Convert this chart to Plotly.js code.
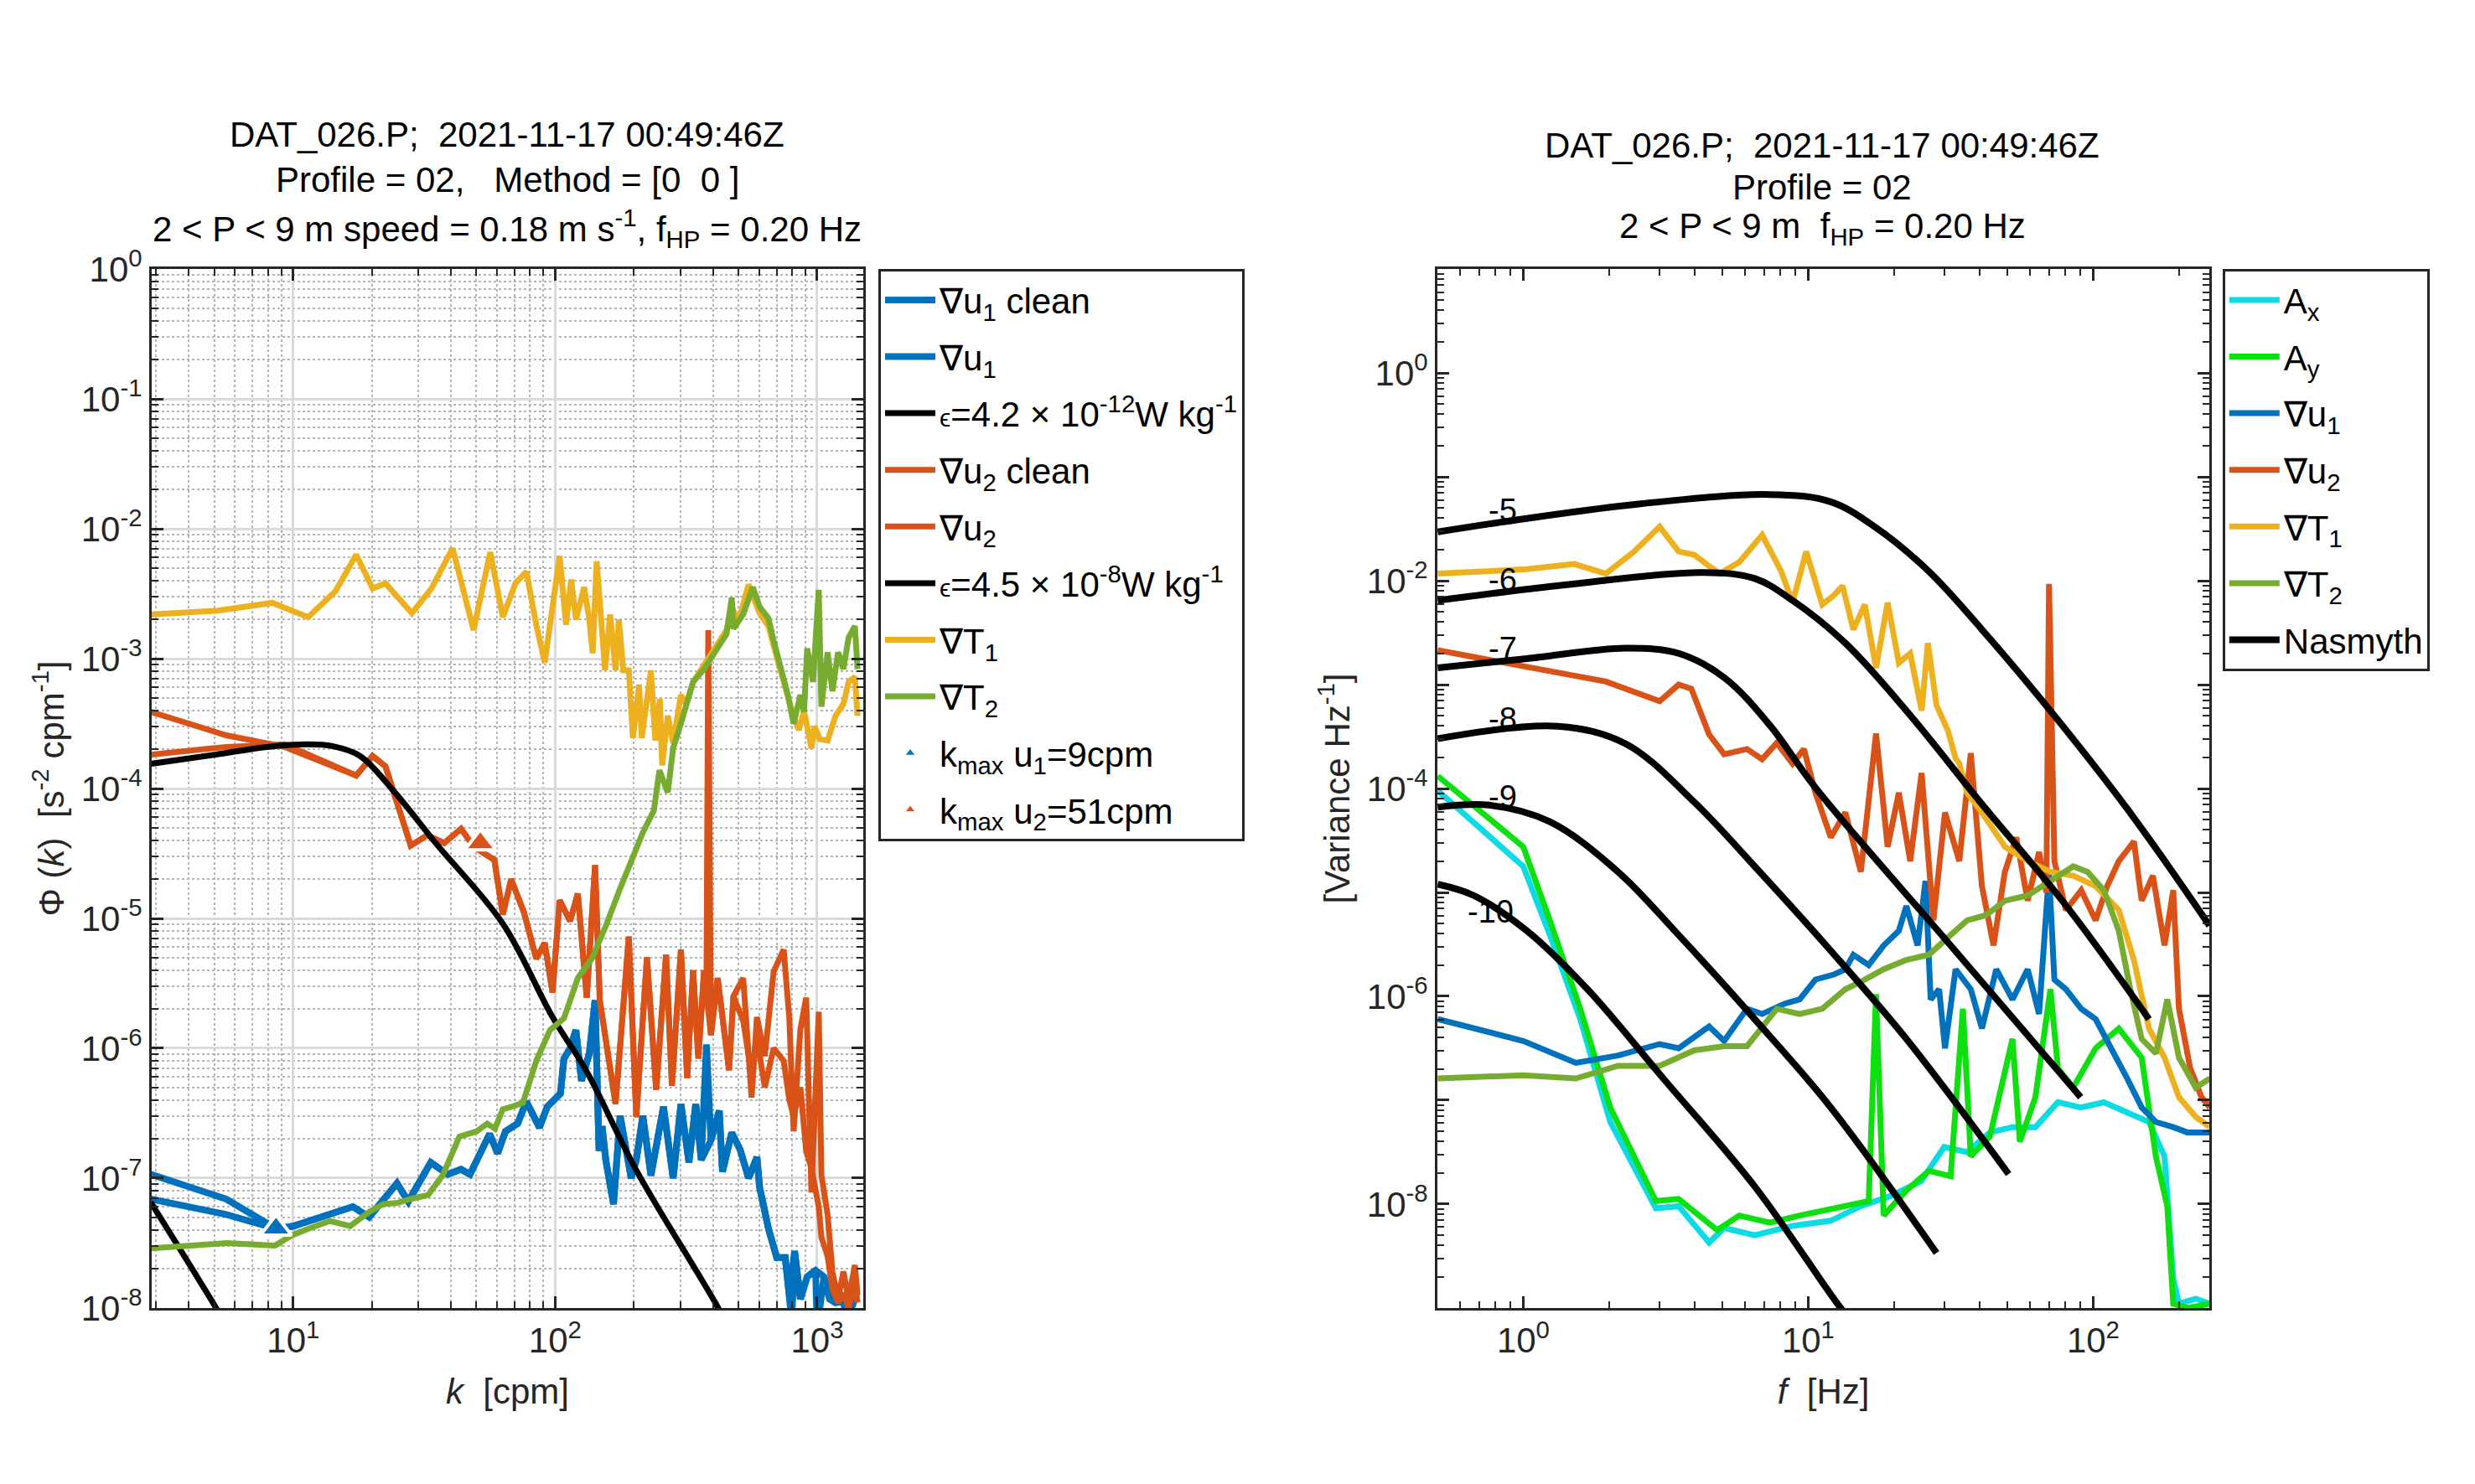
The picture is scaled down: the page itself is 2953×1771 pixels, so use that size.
<!DOCTYPE html>
<html>
<head>
<meta charset="utf-8">
<script src="https://cdn.plot.ly/plotly-3.0.1.min.js"></script>
<style>html,body{margin:0;padding:0;background:#fff;}#chart{width:2953px;height:1771px;}</style>
</head>
<body>
<div id="chart"></div>
<script>
// ---------------- LEFT PANEL: wavenumber spectra ----------------
const kT1 = [2.86,5.15,8.32,11.4,14.5,17.4,20.1,22.5,28.4,33.7,40.6,48.8,56.5,63.1,70.5,77.6,84.7,91.2,98.2,104,110,115,120,129,135,139,144,155,162,170,175,182,191,198,209,214,232,241,251,256,269,282,302,316,336,370,407,451,472,501,522,547,603,652,682,735,773,813,851,891,951,977,1023,1096,1175,1259,1318,1393,1426];
const pT1 = [2.19e-3,2.34e-3,2.69e-3,2.09e-3,3.31e-3,6.31e-3,3.47e-3,3.80e-3,2.24e-3,3.47e-3,7.08e-3,1.66e-3,6.61e-3,2.09e-3,3.80e-3,4.68e-3,1.82e-3,9.33e-4,2.69e-3,6.17e-3,1.82e-3,4.07e-3,2.00e-3,3.55e-3,2.00e-3,1.10e-3,5.62e-3,8.13e-4,2.19e-3,8.13e-4,2.00e-3,8.13e-4,8.13e-4,2.45e-4,6.31e-4,2.45e-4,8.13e-4,2.34e-4,4.90e-4,1.51e-4,3.63e-4,2.24e-4,5.25e-4,4.47e-4,6.61e-4,8.91e-4,1.17e-3,1.66e-3,2.51e-3,1.91e-3,2.63e-3,3.72e-3,2.24e-3,1.78e-3,1.26e-3,7.08e-4,5.01e-4,3.55e-4,2.82e-4,3.98e-4,2.04e-4,3.02e-4,2.40e-4,2.34e-4,3.63e-4,4.47e-4,6.61e-4,7.24e-4,3.63e-4];

const kT2 = [2.88,5.58,8.51,9.89,11.4,13.8,16.5,19.5,22.1,25.1,28.2,32.7,37.2,43.1,50.1,55.0,58.9,63.1,68.4,75.3,84.7,95.5,108,122,138,156,177,191,216,238,250,269,282,302,336,370,407,451,472,479,522,568,603,652,682,735,773,813,863,891,916,964,1014,1038,1096,1143,1202,1259,1318,1393,1426];
const pT2 = [2.88e-8,3.16e-8,3.02e-8,3.63e-8,4.07e-8,4.68e-8,4.27e-8,5.50e-8,6.31e-8,6.46e-8,6.92e-8,7.41e-8,1.05e-7,2.09e-7,2.29e-7,2.63e-7,2.40e-7,3.39e-7,3.55e-7,3.80e-7,8.0e-7,1.38e-6,1.70e-6,3.47e-6,4.90e-6,8.71e-6,1.70e-5,2.51e-5,4.57e-5,6.76e-5,1.38e-4,9.33e-5,2.04e-4,3.16e-4,6.61e-4,8.32e-4,1.10e-3,1.55e-3,2.95e-3,1.70e-3,2.19e-3,3.55e-3,2.51e-3,2.04e-3,1.38e-3,7.76e-4,5.25e-4,3.16e-4,5.25e-4,3.89e-4,1.20e-3,6.61e-4,3.39e-3,4.27e-4,1.12e-3,5.62e-4,1.12e-3,8.32e-4,1.45e-3,1.78e-3,8.32e-4];

const kU2 = [2.86,5.55,9.29,17.4,20.1,22.5,28.1,32.5,37.7,43.7,49,58.6,63.1,67.9,75.9,84.7,91.2,97.7,104,114,122,132,142,148,170,191,204,224,243,265,279,302,319,336,352,370,378,384,393,417,461,479,522,562,589,631,682,745,783,813,863,908,951,1014,1038,1096,1143,1202,1259,1318,1393,1426];
const pU2 = [3.89e-4,2.57e-4,2.09e-4,1.26e-4,1.78e-4,1.48e-4,3.63e-5,4.37e-5,3.80e-5,4.90e-5,3.55e-5,2.82e-5,1.07e-5,2.00e-5,1.12e-5,4.90e-6,6.46e-6,2.69e-6,1.38e-5,9.55e-6,1.55e-5,2.45e-6,2.57e-5,2.34e-6,3.72e-7,7.24e-6,2.95e-7,5.01e-6,4.79e-7,5.25e-6,5.13e-7,5.75e-6,5.89e-7,3.98e-6,8.32e-7,3.98e-6,3.16e-6,1.66e-3,1.26e-6,3.47e-6,6.76e-7,2.51e-6,3.47e-6,4.17e-7,1.74e-6,8.71e-7,3.89e-6,5.75e-6,1.70e-6,2.29e-7,1.41e-6,2.45e-6,7.76e-8,1.91e-6,1.05e-7,5.25e-8,1.91e-8,1.17e-8,1.91e-8,1.17e-8,2.14e-8,1.26e-8];

const kU2c = [2.86,5.55,9.29,17.4,20.1,22.5,28.1,32.5,37.7,43.7,49,58.6,63.1,67.9,75.9,84.7,91.2,97.7,104,114,122,132,142,148,170,191,204,224,243,265,279,302,319,336,352,370,393,417,461,479,522,562,589,631,682,745,783,813,863,908,951,1014,1038,1096,1143,1202,1259,1318,1393,1426];
const pU2c = [1.82e-4,2.09e-4,2.19e-4,1.26e-4,1.78e-4,1.48e-4,3.63e-5,4.37e-5,3.80e-5,4.90e-5,3.55e-5,2.82e-5,1.07e-5,2.00e-5,1.12e-5,4.90e-6,6.46e-6,2.69e-6,1.38e-5,9.55e-6,1.55e-5,2.45e-6,2.57e-5,2.34e-6,3.72e-7,7.24e-6,2.95e-7,5.01e-6,4.79e-7,5.25e-6,5.13e-7,5.75e-6,5.89e-7,3.98e-6,8.32e-7,3.98e-6,1.26e-6,3.47e-6,6.76e-7,2.51e-6,1.62e-6,6.30e-7,1.20e-6,5.00e-7,1.00e-6,8.00e-7,4.00e-7,3.00e-7,5.00e-7,1.60e-7,1.20e-7,6.00e-8,3.50e-8,2.50e-8,1.40e-8,1.10e-8,1.30e-8,1.00e-8,1.60e-8,1.10e-8];

const kU1 = [2.86,5.55,8.63,10.0,16.9,19.5,24.9,27.5,33.5,38.9,43.7,47.3,56.2,60.3,64.6,71.9,77.6,87.1,93.3,104.7,108,114,120,126,135,142,147,151,156,167,177,195,204,216,232,259,282,302,324,344,361,378,393,423,435,472,508,547,589,603,652,701,755,783,800,820,863,916,986,1000,1062,1117,1175,1259,1300,1393];
const pU1 = [1.07e-7,6.90e-8,4.07e-8,4.27e-8,6.03e-8,5.01e-8,9.12e-8,6.61e-8,1.32e-7,1.07e-7,1.17e-7,1.07e-7,2.19e-7,1.55e-7,2.29e-7,2.63e-7,3.89e-7,2.45e-7,3.55e-7,4.47e-7,8.32e-7,1.00e-6,1.38e-6,5.62e-7,9.12e-7,2.34e-6,1.62e-7,2.51e-7,1.38e-7,6.31e-8,3.02e-7,1.00e-7,1.38e-7,3.02e-7,1.05e-7,3.55e-7,1.00e-7,3.72e-7,1.32e-7,3.72e-7,1.38e-7,1.07e-6,1.95e-7,3.31e-7,1.12e-7,2.24e-7,1.66e-7,1.00e-7,1.45e-7,8.51e-8,4.07e-8,2.45e-8,2.45e-8,1.26e-8,8.00e-9,2.75e-8,1.17e-8,1.74e-8,1.95e-8,7.00e-9,1.74e-8,1.17e-8,1.10e-8,1.12e-8,8.00e-9,1.17e-8];

const kU1c = [2.86,5.55,8.63,10.0,16.9,19.5,24.9,27.5,33.5,38.9,43.7,47.3,56.2,60.3,64.6,71.9,77.6,87.1,93.3,104.7,108,114,120,126,135,142,147,151,156,167,177,195,204,216,232,259,282,302,324,344,361,393,423,435,472,508,547,589,603,652,701,755,783,820,863,916,986,1062,1117,1175,1259,1393];
const pU1c = [6.90e-8,5.25e-8,4.07e-8,4.27e-8,6.03e-8,5.01e-8,9.12e-8,6.61e-8,1.32e-7,1.07e-7,1.17e-7,1.07e-7,2.19e-7,1.55e-7,2.29e-7,2.63e-7,3.89e-7,2.45e-7,3.55e-7,4.47e-7,8.32e-7,1.00e-6,1.38e-6,5.62e-7,9.12e-7,2.34e-6,1.62e-7,2.51e-7,1.38e-7,6.31e-8,3.02e-7,1.00e-7,1.38e-7,3.02e-7,1.05e-7,3.55e-7,1.00e-7,3.72e-7,1.32e-7,3.72e-7,1.38e-7,1.95e-7,3.31e-7,1.12e-7,2.24e-7,1.66e-7,1.00e-7,1.45e-7,8.51e-8,4.07e-8,2.45e-8,2.45e-8,1.26e-8,2.75e-8,1.17e-8,1.74e-8,1.95e-8,1.74e-8,1.17e-8,1.10e-8,1.12e-8,1.17e-8];

// Nasmyth fits
const kEps1 = [2.86,5.08,6.0];
const pEps1 = [6.5e-8,1.0e-8,5.6e-9];
const kEps2 = [2.86,5.01,7.94,11.4,14.1,18.0,24.2,35.0,63.1,97.7,132,204,417,501];
const pEps2 = [1.55e-4,1.82e-4,2.09e-4,2.19e-4,2.12e-4,1.78e-4,9.55e-5,3.80e-5,9.12e-6,1.74e-6,6.61e-7,1.15e-7,1.02e-8,5.0e-9];

const kmaxK = [8.6, 51.8];
const kmaxP = [4.1e-8, 3.8e-5];

// ---------------- RIGHT PANEL: frequency spectra ----------------
const fAx = [0.501,1.0,1.24,1.585,2.02,2.92,3.51,4.49,5.07,6.49,8.81,12.0,15.3,19.5,24.9,30.0,36.1,43.4,52.1,62.7,75.2,90.4,109,131,157,178,191,200,229,257];
const vAx = [9.55e-5,1.78e-5,3.89e-6,6.03e-7,6.17e-8,9.12e-9,9.55e-9,4.27e-9,5.89e-9,5.01e-9,6.17e-9,6.92e-9,9.55e-9,1.20e-8,1.66e-8,3.55e-8,3.16e-8,4.90e-8,5.50e-8,5.50e-8,9.55e-8,8.51e-8,9.55e-8,7.76e-8,6.17e-8,2.88e-8,1.91e-9,1.10e-9,1.23e-9,1.10e-9];

const fAy = [0.501,1.0,1.24,1.585,2.02,2.92,3.51,4.79,5.73,7.33,9.33,13.5,16.3,17.3,18.4,22.1,26.5,31.6,34.9,37.2,43.4,52.1,55.3,62.7,70.8,75.2,85.1,102,123,148,166,182,191,214,257];
const vAy = [1.32e-4,2.75e-5,5.37e-6,7.59e-7,8.51e-8,1.07e-8,1.12e-8,5.62e-9,7.76e-9,6.61e-9,7.76e-9,9.55e-9,1.07e-8,1.05e-6,7.76e-9,1.35e-8,2.09e-8,1.86e-8,7.59e-7,2.88e-8,4.47e-8,3.89e-7,3.98e-8,1.07e-7,1.17e-6,2.04e-7,1.32e-7,3.16e-7,4.90e-7,2.57e-7,2.88e-8,9.55e-9,1.10e-9,1.00e-9,1.10e-9];

const fU1 = [0.501,1.0,1.53,2.15,3.01,3.51,4.49,5.07,6.10,6.89,8.28,9.33,10.6,12.3,13.5,14.4,16.3,18.4,20.8,22.1,24.2,25.8,26.9,28.8,30.2,32.9,37.2,40.7,45.7,52.1,58.9,64.6,70.0,73.1,80.2,90.8,102,116,131,148,166,191,214,240,257];
const vU1 = [6.03e-7,3.72e-7,2.29e-7,2.69e-7,3.47e-7,3.16e-7,5.13e-7,3.72e-7,7.59e-7,6.76e-7,8.51e-7,9.33e-7,1.45e-6,1.62e-6,1.82e-6,2.51e-6,2.00e-6,3.09e-6,4.27e-6,7.41e-6,3.09e-6,1.29e-5,9.33e-7,1.17e-6,3.16e-7,1.82e-6,1.17e-6,4.90e-7,1.82e-6,9.33e-7,1.82e-6,6.76e-7,1.58e-5,1.45e-6,1.17e-6,7.59e-7,6.03e-7,3.16e-7,1.66e-7,8.51e-8,6.17e-8,5.50e-8,4.90e-8,4.90e-8,4.90e-8];

const fU2 = [0.501,1.03,1.95,3.01,3.51,3.89,4.49,5.07,6.10,6.89,7.76,8.81,9.66,10.6,12.0,13.5,15.3,17.3,19.0,20.8,22.8,25.0,27.5,30.2,33.9,37.2,40.7,44.7,49.0,53.7,58.9,64.6,68.5,70.0,73.1,80.2,90.8,102,112,123,139,148,162,178,191,200,219,240,257];
const vU2 = [2.14e-3,1.48e-3,1.07e-3,6.92e-4,1.00e-3,9.12e-4,3.31e-4,2.14e-4,2.40e-4,1.91e-4,2.75e-4,1.74e-4,2.40e-4,9.12e-5,3.39e-5,5.89e-5,1.58e-5,3.39e-4,2.75e-5,9.12e-5,2.00e-5,1.41e-4,5.37e-6,5.89e-5,2.00e-5,2.19e-4,1.15e-5,3.09e-6,1.58e-5,3.39e-5,8.32e-6,2.45e-5,1.00e-5,9.33e-3,2.00e-5,6.76e-6,1.05e-5,5.37e-6,1.15e-5,2.00e-5,3.09e-5,8.32e-6,1.45e-5,3.09e-6,1.05e-5,7.59e-7,2.04e-7,1.07e-7,8.51e-8];

const fT1 = [0.501,1.03,1.51,1.95,2.45,3.01,3.51,3.98,4.49,4.90,5.73,6.89,8.04,8.81,9.84,11.2,12.3,13.2,14.4,15.8,17.3,19.0,20.8,22.8,25.0,26.3,28.2,30.9,32.9,33.9,36.1,40.7,49.0,59.0,70.8,85.1,102,123,139,157,178,200,229,257];
const vT1 = [1.17e-2,1.29e-2,1.45e-2,1.17e-2,1.91e-2,3.31e-2,1.91e-2,1.78e-2,1.38e-2,1.17e-2,1.51e-2,2.75e-2,1.23e-2,6.17e-3,1.91e-2,5.89e-3,7.24e-3,8.91e-3,3.39e-3,5.89e-3,1.45e-3,6.17e-3,1.62e-3,2.00e-3,5.62e-4,2.51e-3,6.31e-4,3.63e-4,1.95e-4,1.74e-4,9.12e-5,5.89e-5,2.75e-5,2.00e-5,1.58e-5,1.45e-5,1.15e-5,6.76e-6,2.24e-6,4.90e-7,2.57e-7,1.07e-7,6.92e-8,5.50e-8];

const fT2 = [0.501,1.0,1.53,2.15,3.01,3.98,5.07,6.10,7.76,9.33,11.2,13.5,15.3,18.4,22.1,26.5,31.6,36.1,42.0,49.0,58.9,70.8,85.1,95.5,109,123,135,148,166,182,200,229,257];
const vT2 = [1.62e-7,1.74e-7,1.62e-7,2.14e-7,2.14e-7,3.02e-7,3.31e-7,3.31e-7,7.59e-7,6.76e-7,7.59e-7,1.17e-6,1.38e-6,1.82e-6,2.24e-6,2.51e-6,3.89e-6,5.37e-6,6.03e-6,8.32e-6,9.33e-6,1.29e-5,1.78e-5,1.58e-5,1.05e-5,4.27e-6,1.17e-6,3.89e-7,2.82e-7,9.33e-7,2.57e-7,1.32e-7,1.62e-7];

// Nasmyth curves for log10(epsilon) = -5 ... -10
const nasF5 = [0.501,1.03,2.58,7.33,12.0,17.3,26.5,40.7,75.2,138,256];
const nasV5 = [2.95e-2,3.98e-2,5.50e-2,6.76e-2,5.75e-2,3.24e-2,1.23e-2,3.39e-3,4.57e-4,5.37e-5,4.79e-6];
const nasF6 = [0.501,1.40,4.23,6.49,8.81,13.5,22.1,40.7,80.0,157];
const nasV6 = [6.46e-3,9.12e-3,1.20e-2,1.05e-2,6.46e-3,2.51e-3,5.62e-4,7.08e-5,7.59e-6,6.03e-7];
const nasF7 = [0.501,1.03,2.29,3.51,5.07,7.33,10.6,31.6,90.4];
const nasV7 = [1.45e-3,1.78e-3,2.24e-3,2.00e-3,1.17e-3,4.07e-4,1.02e-4,3.09e-6,1.07e-7];
const nasF8 = [0.501,1.32,2.29,3.98,6.49,12.0,22.1,50.5];
const nasV8 = [3.02e-4,3.98e-4,2.69e-4,7.41e-5,1.78e-5,2.75e-6,3.89e-7,1.95e-8];
const nasF9 = [0.501,0.759,1.24,2.15,3.51,6.49,12.0,28.2];
const nasV9 = [6.61e-5,6.92e-5,4.79e-5,1.58e-5,3.89e-6,6.03e-7,8.51e-8,3.39e-9];
const nasF10 = [0.501,0.671,1.03,1.68,3.10,6.49,13.0,16.0];
const nasV10 = [1.20e-5,9.33e-6,4.27e-6,1.17e-6,1.62e-7,1.48e-8,1.00e-9,5.0e-10];

const nasLabels = ['-5','-6','-7','-8','-9','-10'];
const nasLabelF = [0.845,0.845,0.845,0.845,0.845,0.77];
const nasLabelV = [4.8e-2,1.02e-2,2.24e-3,4.68e-4,8.3e-5,6.5e-6];

// tick labels
const leftXTicks = [10,100,1000];
const leftXText = ['10<sup>1</sup>','10<sup>2</sup>','10<sup>3</sup>'];
const leftYTicks = [1e-8,1e-7,1e-6,1e-5,1e-4,1e-3,1e-2,1e-1,1];
const leftYText = ['10<sup>-8</sup>','10<sup>-7</sup>','10<sup>-6</sup>','10<sup>-5</sup>','10<sup>-4</sup>','10<sup>-3</sup>','10<sup>-2</sup>','10<sup>-1</sup>','10<sup>0</sup>'];
const rightXTicks = [1,10,100];
const rightXText = ['10<sup>0</sup>','10<sup>1</sup>','10<sup>2</sup>'];
const rightYTicks = [1e-9,1e-8,1e-7,1e-6,1e-5,1e-4,1e-3,1e-2,1e-1,1,10];
const rightYText = [' ','10<sup>-8</sup>',' ','10<sup>-6</sup>',' ','10<sup>-4</sup>',' ','10<sup>-2</sup>',' ','10<sup>0</sup>',' '];

// ---------------- styling ----------------
const C = {blue:'#0072BD', orange:'#D95319', yellow:'#EDB120', green:'#77AC30', cyan:'#0BDCE4', lime:'#0EDF0E', black:'#000000'};
const FONT = 'Liberation Sans, Arial, Helvetica, sans-serif';
const FS = 42;

function ln(x, y, name, color, width, axes, legend, group, show, shape) {
  return {x:x, y:y, name:name, type:'scatter', mode:'lines',
    line:{color:color, width:width, shape:shape||'linear', smoothing:1},
    xaxis:axes[0], yaxis:axes[1], legend:legend, legendgroup:group, showlegend:show, hoverinfo:'skip'};
}
const L = ['x','y'], R = ['x2','y2'];

const traces = [
  ln(kU1c, pU1c, '∇u<sub>1</sub> clean', C.blue, 8, L, 'legend', 'g1', true),
  ln(kU1, pU1, '∇u<sub>1</sub>', C.blue, 8, L, 'legend', 'g2', true),
  ln(kEps1, pEps1, '<span style="font-size:30px">ϵ</span>=4.2 × 10<sup>-12</sup>W kg<sup>-1</sup>', C.black, 7, L, 'legend', 'g3', true, 'spline'),
  ln(kU2c, pU2c, '∇u<sub>2</sub> clean', C.orange, 7, L, 'legend', 'g4', true),
  ln(kU2, pU2, '∇u<sub>2</sub>', C.orange, 7, L, 'legend', 'g5', true),
  ln(kEps2, pEps2, '<span style="font-size:30px">ϵ</span>=4.5 × 10<sup>-8</sup>W kg<sup>-1</sup>', C.black, 7, L, 'legend', 'g6', true, 'spline'),
  ln(kT1, pT1, '∇T<sub>1</sub>', C.yellow, 7, L, 'legend', 'g7', true),
  ln(kT2, pT2, '∇T<sub>2</sub>', C.green, 7, L, 'legend', 'g8', true),
  {x:[kmaxK[0]], y:[kmaxP[0]], name:'k<sub>max</sub> u<sub>1</sub>=9cpm', type:'scatter', mode:'markers',
   marker:{symbol:'triangle-up', size:32, color:C.blue, line:{color:'#ffffff', width:4}},
   xaxis:'x', yaxis:'y', legend:'legend', legendgroup:'g9', hoverinfo:'skip'},
  {x:[kmaxK[1]], y:[kmaxP[1]], name:'k<sub>max</sub> u<sub>2</sub>=51cpm', type:'scatter', mode:'markers',
   marker:{symbol:'triangle-up', size:32, color:C.orange, line:{color:'#ffffff', width:4}},
   xaxis:'x', yaxis:'y', legend:'legend', legendgroup:'g10', hoverinfo:'skip'},

  ln(fAx, vAx, 'A<sub>x</sub>', C.cyan, 7, R, 'legend2', 'r1', true),
  ln(fAy, vAy, 'A<sub>y</sub>', C.lime, 7, R, 'legend2', 'r2', true),
  ln(fU1, vU1, '∇u<sub>1</sub>', C.blue, 7, R, 'legend2', 'r3', true),
  ln(fU2, vU2, '∇u<sub>2</sub>', C.orange, 7, R, 'legend2', 'r4', true),
  ln(fT1, vT1, '∇T<sub>1</sub>', C.yellow, 7, R, 'legend2', 'r5', true),
  ln(fT2, vT2, '∇T<sub>2</sub>', C.green, 7, R, 'legend2', 'r6', true),
  ln(nasF5, nasV5, 'Nasmyth', C.black, 8, R, 'legend2', 'r7', true, 'spline'),
  ln(nasF6, nasV6, 'Nasmyth', C.black, 8, R, 'legend2', 'r7', false, 'spline'),
  ln(nasF7, nasV7, 'Nasmyth', C.black, 8, R, 'legend2', 'r7', false, 'spline'),
  ln(nasF8, nasV8, 'Nasmyth', C.black, 8, R, 'legend2', 'r7', false, 'spline'),
  ln(nasF9, nasV9, 'Nasmyth', C.black, 8, R, 'legend2', 'r7', false, 'spline'),
  ln(nasF10, nasV10, 'Nasmyth', C.black, 8, R, 'legend2', 'r7', false, 'spline')
];

const axisBase = {
  type:'log', showline:true, linecolor:'#262626', linewidth:3, mirror:'allticks',
  ticks:'inside', ticklen:14, tickwidth:3, tickcolor:'#262626', tickmode:'array',
  tickfont:{family:FONT, size:FS, color:'#262626'}, zeroline:false, fixedrange:true
};
function ax(extra){ return Object.assign({}, axisBase, extra); }
const minorGrid = {dtick:'D1', ticks:'inside', ticklen:8, tickwidth:2, tickcolor:'#262626', showgrid:true, gridcolor:'#b4b4b4', griddash:'dot', gridwidth:2};
const minorNoGrid = {dtick:'D1', ticks:'inside', ticklen:8, tickwidth:2, tickcolor:'#262626', showgrid:false};

const yDom = [0.1186, 0.8187];
const layout = {
  width:2953, height:1771, margin:{l:0, r:0, t:0, b:0, pad:0},
  paper_bgcolor:'#ffffff', plot_bgcolor:'#ffffff', showlegend:true,
  font:{family:FONT, size:FS, color:'#000000'},
  xaxis: ax({domain:[0.0613, 0.3488], range:[0.46, 3.176], anchor:'y',
    tickvals:leftXTicks, ticktext:leftXText, showgrid:true, gridcolor:'#d9d9d9', gridwidth:3, minor:minorGrid,
    title:{text:'<i>k</i>  [cpm]', font:{family:FONT, size:FS, color:'#262626'}, standoff:24}}),
  yaxis: ax({domain:yDom, range:[-8, 0], anchor:'x',
    tickvals:leftYTicks, ticktext:leftYText, showgrid:true, gridcolor:'#d9d9d9', gridwidth:3, minor:minorGrid,
    title:{text:'Φ (<i>k</i>)  [s<sup>-2</sup> cpm<sup>-1</sup>]', font:{family:FONT, size:FS, color:'#262626'}, standoff:8}}),
  xaxis2: ax({domain:[0.5808, 0.8927], range:[-0.301, 2.408], anchor:'y2',
    tickvals:rightXTicks, ticktext:rightXText, showgrid:false, minor:minorNoGrid,
    title:{text:'<i>f</i>  [Hz]', font:{family:FONT, size:FS, color:'#262626'}, standoff:24}}),
  yaxis2: ax({domain:yDom, range:[-9, 1], anchor:'x2',
    tickvals:rightYTicks, ticktext:rightYText, showgrid:false, minor:minorNoGrid,
    title:{text:'[Variance Hz<sup>-1</sup>]', font:{family:FONT, size:FS, color:'#262626'}, standoff:8}}),
  legend:{x:0.3549, y:0.8187, xanchor:'left', yanchor:'top', bgcolor:'#ffffff',
    bordercolor:'#262626', borderwidth:3, font:{family:FONT, size:FS, color:'#000000'},
    traceorder:'grouped', tracegroupgap:10, itemwidth:60, itemclick:false, itemdoubleclick:false},
  legend2:{x:0.898, y:0.8187, xanchor:'left', yanchor:'top', bgcolor:'#ffffff',
    bordercolor:'#262626', borderwidth:3, font:{family:FONT, size:FS, color:'#000000'},
    traceorder:'grouped', tracegroupgap:10, itemwidth:60, itemclick:false, itemdoubleclick:false},
  annotations:[]
};

const NB = '\u00a0';
const titleLines = [
  {x:0.2049, y:160, t:'DAT_026.P;'+NB+NB+'2021-11-17 00:49:46Z'},
  {x:0.2049, y:214, t:'Profile = 02,'+NB+NB+NB+'Method = [0'+NB+NB+'0 ]'},
  {x:0.2049, y:272, t:'2 < P < 9 m speed = 0.18 m s<sup>-1</sup>, f<sub>HP</sub> = 0.20 Hz'},
  {x:0.7363, y:173, t:'DAT_026.P;'+NB+NB+'2021-11-17 00:49:46Z'},
  {x:0.7363, y:223, t:'Profile = 02'},
  {x:0.7363, y:272, t:'2 < P < 9 m'+NB+NB+'f<sub>HP</sub> = 0.20 Hz'}
];
titleLines.forEach(function(l){
  layout.annotations.push({xref:'paper', yref:'paper', x:l.x, y:1 - l.y/1771, xanchor:'center', yanchor:'middle',
    text:l.t, showarrow:false, font:{family:FONT, size:FS, color:'#000000'}});
});
nasLabels.forEach(function(s, i){
  layout.annotations.push({xref:'x2', yref:'y2', x:Math.log10(nasLabelF[i]), y:Math.log10(nasLabelV[i]),
    xanchor:'center', yanchor:'middle', text:s, showarrow:false, font:{family:FONT, size:38, color:'#000000'}});
});

Plotly.newPlot('chart', traces, layout, {displayModeBar:false, staticPlot:true});
</script>
</body>
</html>
